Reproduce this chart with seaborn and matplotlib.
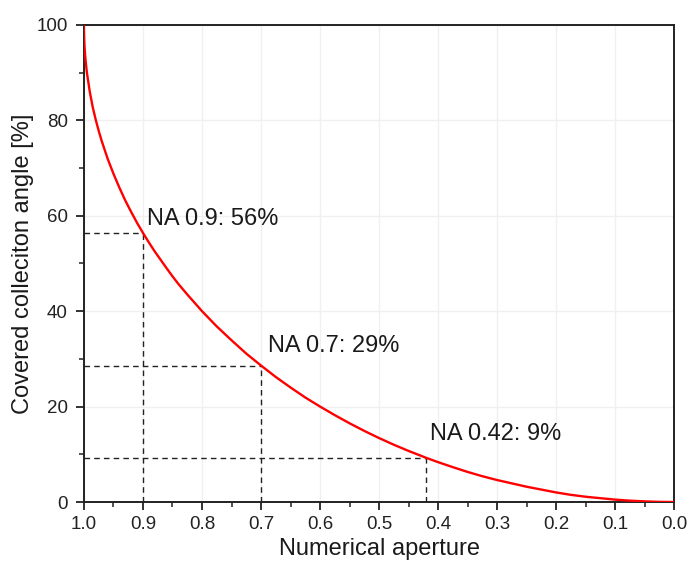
import matplotlib
matplotlib.use("Agg")
import matplotlib.pyplot as plt
from matplotlib.ticker import MultipleLocator
import seaborn as sns
import pandas as pd

# Covered collection angle (%) versus numerical aperture
numerical_aperture = [1.0, 0.99999, 0.9999, 0.9995, 0.999, 0.998, 0.997, 0.995, 0.99, 0.985,
                      0.98, 0.975, 0.97, 0.96, 0.95, 0.94, 0.93, 0.92, 0.91, 0.9,
                      0.89, 0.88, 0.86, 0.85, 0.84, 0.825, 0.8, 0.775, 0.75, 0.725,
                      0.7, 0.675, 0.65, 0.625, 0.6, 0.575, 0.55, 0.525, 0.5, 0.475,
                      0.45, 0.42, 0.4, 0.375, 0.35, 0.325, 0.3, 0.275, 0.25, 0.225,
                      0.2, 0.175, 0.15, 0.125, 0.1, 0.075, 0.05, 0.025, 0.0]
covered_angle = [100.0, 99.55, 98.6, 96.8, 95.5, 93.7, 92.3, 90.0, 85.9, 82.7,
                 80.1, 77.8, 75.7, 72.0, 68.8, 65.9, 63.2, 60.8, 58.5, 56.4,
                 54.4, 52.5, 49.0, 47.3, 45.7, 43.5, 40.0, 36.8, 33.9, 31.1,
                 28.6, 26.2, 24.0, 21.9, 20.0, 18.2, 16.5, 14.9, 13.4, 12.0,
                 10.7, 9.25, 8.35, 7.3, 6.3, 5.4, 4.6, 3.9, 3.2, 2.6,
                 2.0, 1.5, 1.1, 0.8, 0.5, 0.28, 0.13, 0.03, 0.0]

# Highlighted apertures
marked_na = [0.9, 0.7, 0.42]
marked_pct = [56.4, 28.6, 9.25]
marked_text = ["NA 0.9: 56%", "NA 0.7: 29%", "NA 0.42: 9%"]
text_pos = [(0.893, 58.1), (0.688, 31.4), (0.4136, 13.0)]

x_ticks = [1.0, 0.9, 0.8, 0.7, 0.6, 0.5, 0.4, 0.3, 0.2, 0.1, 0.0]
y_ticks = [0, 20, 40, 60, 80, 100]

sns.set_theme(style="white")
plt.rcParams["font.family"] = ["Liberation Sans", "DejaVu Sans"]

fig = plt.figure(figsize=(6.88, 5.65), dpi=100)
ax = fig.add_axes([0.122, 0.1115, 0.858, 0.8445])

df = pd.DataFrame({"na": numerical_aperture, "pct": covered_angle})

# faint grid at major ticks
for xv in x_ticks:
    ax.axvline(xv, color="#f0f0f0", lw=1.0, zorder=0)
for yv in y_ticks:
    ax.axhline(yv, color="#f0f0f0", lw=1.0, zorder=0)

sns.lineplot(data=df, x="na", y="pct", color="#ff0000", lw=1.7,
             estimator=None, ax=ax, zorder=3)

for na, pct, txt, (tx, ty) in zip(marked_na, marked_pct, marked_text, text_pos):
    ax.plot([1.0, na], [pct, pct], ls=(0, (4, 3)), color="#222222", lw=1.0, zorder=2)
    ax.plot([na, na], [0, pct], ls=(0, (4, 3)), color="#222222", lw=1.0, zorder=2)
    ax.text(tx, ty, txt, fontsize=17, color="#1a1a1a", ha="left", va="baseline")

ax.set_xlim(1.0, 0.0)
ax.set_ylim(0, 100)
ax.set_xticks(x_ticks)
ax.set_xticklabels([f"{v:.1f}" for v in x_ticks])
ax.set_yticks(y_ticks)
ax.xaxis.set_minor_locator(MultipleLocator(0.05))
ax.yaxis.set_minor_locator(MultipleLocator(10))

ax.tick_params(axis="both", which="major", direction="out", length=5.5, width=1.3,
               labelsize=13.5, colors="#222222", bottom=True, left=True)
ax.tick_params(axis="x", which="major", pad=4.5)
ax.tick_params(axis="y", which="major", pad=6)
ax.tick_params(axis="both", which="minor", direction="out", length=3.5, width=1.1,
               colors="#222222", bottom=True, left=True)

for s in ax.spines.values():
    s.set_visible(True)
    s.set_color("#222222")
    s.set_linewidth(1.4)

ax.set_xlabel("Numerical aperture", fontsize=17, color="#1a1a1a", labelpad=4)
ax.set_ylabel("Covered colleciton angle [%]", fontsize=17, color="#1a1a1a", labelpad=2)

fig.savefig("out.png", dpi=100, facecolor="white")
